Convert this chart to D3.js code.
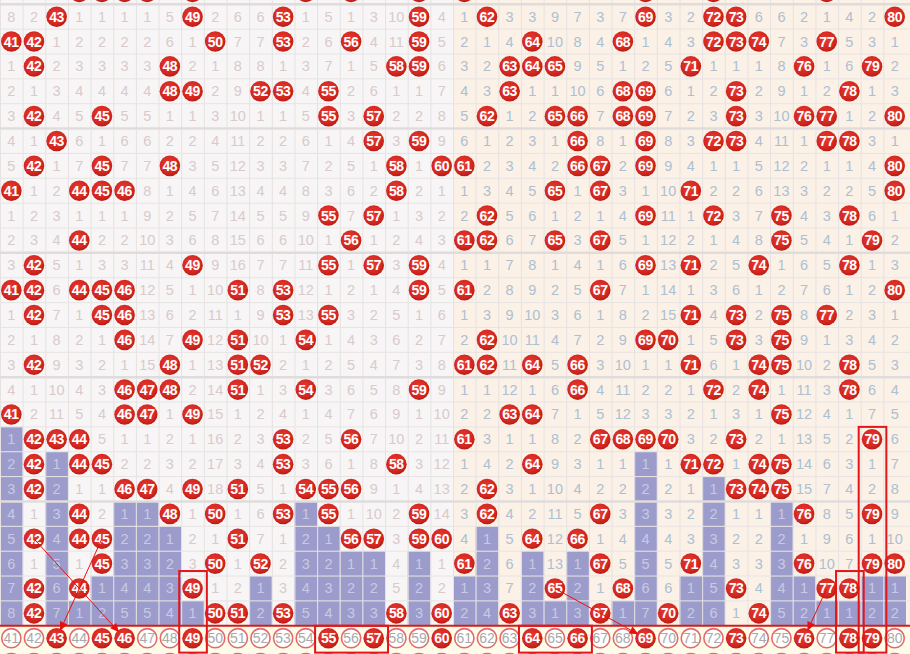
<!DOCTYPE html>
<html><head><meta charset="utf-8">
<script src="https://cdn.jsdelivr.net/npm/d3@7"></script>
<style>html,body{margin:0;padding:0;overflow:hidden;background:#fff}svg{display:block}</style>
</head><body><svg id="c" width="910" height="654"></svg>
<script>
// ---------- data ----------
const numbers = d3.range(41, 81);
// value equal to the column number = drawn ball, otherwise omission count
const prevRow = [7,1,2,44,45,46,47,4,49,1, 5,5,1,54,4,56,2,9,59,3, 61,1,2,2,8,6,2,6,69,2, 1,72,1,5,5,1,77,3,1,1];
const rowA = [8,2,43,1,1,1,1,5,49,2, 6,6,53,1,5,1,3,10,59,4, 1,62,3,3,9,7,3,7,69,3, 2,72,73,6,6,2,1,4,2,80];
const rowB = [41,42,1,2,2,2,2,6,1,50, 7,7,53,2,6,56,4,11,59,5, 2,1,4,64,10,8,4,68,1,4, 3,72,73,74,7,3,77,5,3,1];
const rowC = [1,42,2,3,3,3,3,48,2,1, 8,8,1,3,7,1,5,58,59,6, 3,2,63,64,65,9,5,1,2,5, 71,1,1,1,8,76,1,6,79,2];
const rowD = [2,1,3,4,4,4,4,48,49,2, 9,52,53,4,55,2,6,1,1,7, 4,3,63,1,1,10,6,68,69,6, 1,2,73,2,9,1,2,78,1,3];
const rowE = [3,42,4,5,45,5,5,1,1,3, 10,1,1,5,55,3,57,2,2,8, 5,62,1,2,65,66,7,68,69,7, 2,3,73,3,10,76,77,1,2,80];
const rowF = [4,1,43,6,1,6,6,2,2,4, 11,2,2,6,1,4,57,3,59,9, 6,1,2,3,1,66,8,1,69,8, 3,72,73,4,11,1,77,78,3,1];
const rowG = [5,42,1,7,45,7,7,48,3,5, 12,3,3,7,2,5,1,58,1,60, 61,2,3,4,2,66,67,2,69,9, 4,1,1,5,12,2,1,1,4,80];
const rowH = [41,1,2,44,45,46,8,1,4,6, 13,4,4,8,3,6,2,58,2,1, 1,3,4,5,65,1,67,3,1,10, 71,2,2,6,13,3,2,2,5,80];
const rowI = [1,2,3,1,1,1,9,2,5,7, 14,5,5,9,55,7,57,1,3,2, 2,62,5,6,1,2,1,4,69,11, 1,72,3,7,75,4,3,78,6,1];
const rowJ = [2,3,4,44,2,2,10,3,6,8, 15,6,6,10,1,56,1,2,4,3, 61,62,6,7,65,3,67,5,1,12, 2,1,4,8,75,5,4,1,79,2];
const rowK = [3,42,5,1,3,3,11,4,49,9, 16,7,7,11,55,1,57,3,59,4, 1,1,7,8,1,4,1,6,69,13, 71,2,5,74,1,6,5,78,1,3];
const rowL = [41,42,6,44,45,46,12,5,1,10, 51,8,53,12,1,2,1,4,59,5, 61,2,8,9,2,5,67,7,1,14, 1,3,6,1,2,7,6,1,2,80];
const rowM = [1,42,7,1,45,46,13,6,2,11, 1,9,53,13,55,3,2,5,1,6, 1,3,9,10,3,6,1,8,2,15, 71,4,73,2,75,8,77,2,3,1];
const rowN = [2,1,8,2,1,46,14,7,49,12, 51,10,1,54,1,4,3,6,2,7, 2,62,10,11,4,7,2,9,69,70, 1,5,73,3,75,9,1,3,4,2];
const rowO = [3,42,9,3,2,1,15,48,1,13, 51,52,2,1,2,5,4,7,3,8, 61,62,11,64,5,66,3,10,1,1, 71,6,1,74,75,10,2,78,5,3];
const rowP = [4,1,10,4,3,46,47,48,2,14, 51,1,3,54,3,6,5,8,59,9, 1,1,12,1,6,66,4,11,2,2, 1,72,2,74,1,11,3,78,6,4];
const rowQ = [41,2,11,5,4,46,47,1,49,15, 1,2,4,1,4,7,6,9,1,10, 2,2,63,64,7,1,5,12,3,3, 2,1,3,1,75,12,4,1,7,5];
const rowR = [1,42,43,44,5,1,1,2,1,16, 2,3,53,2,5,56,7,10,2,11, 61,3,1,1,8,2,67,68,69,70, 3,2,73,2,1,13,5,2,79,6];
const rowS = [2,42,1,44,45,2,2,3,2,17, 3,4,53,3,6,1,8,58,3,12, 1,4,2,64,9,3,1,1,1,1, 71,72,1,74,75,14,6,3,1,7];
const rowT = [3,42,2,1,1,46,47,4,49,18, 51,5,1,54,55,56,9,1,4,13, 2,62,3,1,10,4,2,2,2,2, 1,1,73,74,75,15,7,4,2,8];
const rowU = [4,1,3,44,2,1,1,48,1,50, 1,6,53,1,55,1,10,2,59,14, 3,62,4,2,11,5,67,3,3,3, 2,2,1,1,1,76,8,5,79,9];
const rowV = [5,42,4,44,45,2,2,1,2,1, 51,7,1,2,1,56,57,3,59,60, 4,1,5,64,12,66,1,4,4,4, 3,3,2,2,2,1,9,6,1,10];
const rowW = [6,1,5,1,45,3,3,2,3,50, 1,52,2,3,2,1,1,4,1,1, 61,2,6,1,13,1,67,5,5,5, 71,4,3,3,3,76,10,7,79,80];
const rowX = [7,42,6,44,1,4,4,3,49,1, 2,1,3,4,3,2,2,5,2,2, 1,3,7,2,65,2,1,68,6,6, 1,5,73,4,4,1,77,78,1,1];
const rowY = [8,42,7,1,2,5,5,4,1,50, 51,2,53,5,4,3,3,58,3,60, 2,4,63,3,1,3,67,1,7,70, 2,6,1,74,5,2,1,1,2,2];
// number of trailing rows shaded blue (current omission streak) per number
const currentOmission = [8,0,7,1,2,5,5,4,1,0, 0,2,0,5,4,3,3,0,3,0, 2,4,0,3,1,3,0,1,7,0, 2,6,0,0,5,2,1,1,2,2];
// numbers marked in the bottom row
const bottomDrawn = [43,45,46,49,55,57,60,64,66,69,73,76,78,79];
// red boxes: number range and row range (row index in the table, 26 = bottom row)
const boxes = [
  {from:49, to:49, r0:24, r1:26, dy0:-5},
  {from:55, to:57, r0:26, r1:26, dy0:0},
  {from:64, to:66, r0:26, r1:26, dy0:0},
  {from:78, to:78, r0:24, r1:26, dy0:-5},
  {from:79, to:79, r0:18, r1:26, dy0:0}
];
// arrows: from a ball (number,row) to a number in the bottom row
const arrows = [
  {num:42, row:22, to:46},
  {num:45, row:22, to:43},
  {num:65, row:24, to:69},
  {num:77, row:24, to:76}
];

const tableRows = [prevRow,rowA,rowB,rowC,rowD,rowE,rowF,rowG,rowH,rowI,rowJ,rowK,rowL,rowM,rowN,rowO,rowP,rowQ,rowR,rowS,rowT,rowU,rowV,rowW,rowX,rowY];

// ---------- drawing ----------
const svg = d3.select('#c');
const RH = 24.86, TOP = -20.6, NR = 28;
const x = d3.scaleBand().domain(numbers).range([0, 906]);
const y = d3.scaleBand().domain(d3.range(NR)).range([TOP, TOP + NR*RH]);
const bw = x.bandwidth(), bh = y.bandwidth();
const cx = n => x(n) + bw/2, cy = r => y(r) + bh/2;
const lastRow = tableRows.length - 1; // 25
const bottomRow = lastRow + 1;

const defs = svg.append('defs');
const g = defs.append('radialGradient').attr('id','ball').attr('cx','45%').attr('cy','40%').attr('r','60%');
g.append('stop').attr('offset','0%').attr('stop-color','#e63b32');
g.append('stop').attr('offset','75%').attr('stop-color','#d3261e');
g.append('stop').attr('offset','100%').attr('stop-color','#b91c16');

// backgrounds
const splitX = x(61);
svg.append('rect').attr('x',0).attr('y',0).attr('width',splitX).attr('height',y(bottomRow)).attr('fill','#f7f5f5');
svg.append('rect').attr('x',splitX).attr('y',0).attr('width',910-splitX).attr('height',y(bottomRow)).attr('fill','#fbf1e6');
svg.append('rect').attr('x',0).attr('y',y(bottomRow)).attr('width',910).attr('height',654-y(bottomRow)).attr('fill','#fffbe9');

// blue streak cells
const blueCells = [];
numbers.forEach((n,i)=>{ for(let k=0;k<currentOmission[i];k++) blueCells.push({n, r:lastRow-k}); });
svg.append('g').selectAll('rect').data(blueCells).join('rect')
  .attr('x',d=>x(d.n)).attr('y',d=>y(d.r)).attr('width',bw).attr('height',bh).attr('fill','#9c9ccc');
const isBlue = new Set(blueCells.map(d=>d.n+'_'+d.r));

// grid
const grid = svg.append('g');
numbers.forEach(n=>{
  grid.append('line').attr('x1',x(n)+0.5).attr('x2',x(n)+0.5).attr('y1',0).attr('y2',y(bottomRow))
    .attr('stroke','#e6e2e2').attr('stroke-width',1);
});
d3.range(0,bottomRow).forEach(r=>{
  const thick = (r % 5) === 1;
  grid.append('line').attr('x1',0).attr('x2',910).attr('y1',y(r)).attr('y2',y(r))
    .attr('stroke', thick ? '#e0dcdc' : '#e8e4e4').attr('stroke-width', thick ? 2.5 : 1);
});

// cells
const cells = [];
tableRows.forEach((row,r)=>row.forEach((v,i)=>cells.push({n:numbers[i], r, v})));
const cg = svg.append('g').attr('font-family','"Liberation Sans", Arial, sans-serif');
// the first row is scrolled almost out of view: only its ball edges show
cells.filter(d=>d.v!==d.n && d.r>0).forEach(d=>{
  const blue = isBlue.has(d.n+'_'+d.r);
  cg.append('text').attr('x',cx(d.n)).attr('y',cy(d.r)+5).attr('text-anchor','middle')
    .attr('font-size',14.5)
    .attr('fill', blue ? '#c9c9e3' : (d.n>60 ? '#adc0d2' : '#d9cbcb'))
    .text(d.v);
});
function ball(parent, n, r, label){
  parent.append('circle').attr('cx',cx(n)).attr('cy',cy(r)).attr('r',10.3).attr('fill','url(#ball)');
  if(label) parent.append('text').attr('x',cx(n)).attr('y',cy(r)+5).attr('text-anchor','middle')
    .attr('font-size',14).attr('font-weight','bold').attr('fill','#fff').attr('letter-spacing',-0.3).text(n);
}
cells.filter(d=>d.v===d.n).forEach(d=>ball(cg,d.n,d.r,d.r>0));

// red separator above bottom row
svg.append('line').attr('x1',0).attr('x2',910).attr('y1',y(bottomRow)).attr('y2',y(bottomRow))
  .attr('stroke','#d01f1a').attr('stroke-width',2);

// bottom row
const bg = svg.append('g').attr('font-family','"Liberation Sans", Arial, sans-serif');
numbers.forEach(n=>{
  if(bottomDrawn.includes(n)) { ball(bg,n,bottomRow,true); }
  else {
    bg.append('circle').attr('cx',cx(n)).attr('cy',cy(bottomRow)).attr('r',9.6)
      .attr('fill','#fff').attr('stroke','#e26a6a').attr('stroke-width',1.6);
    bg.append('text').attr('x',cx(n)).attr('y',cy(bottomRow)+5).attr('text-anchor','middle')
      .attr('font-size',14).attr('fill','#a9a9a9').text(n);
  }
  bg.append('circle').attr('cx',cx(n)).attr('cy',cy(bottomRow+1)).attr('r',9.6)
      .attr('fill','#fff').attr('stroke','#e26a6a').attr('stroke-width',1.6);
});

// boxes
svg.append('g').selectAll('rect').data(boxes).join('rect')
  .attr('x',d=>x(d.from)-2).attr('y',d=>y(d.r0)+d.dy0)
  .attr('width',d=>x(d.to)+bw-x(d.from)+5).attr('height',d=>y(d.r1)+bh-y(d.r0)-d.dy0+2)
  .attr('fill','none').attr('stroke','#e3141a').attr('stroke-width',2);

// arrows
const ag = svg.append('g');
arrows.forEach(a=>{
  const x1=cx(a.num), y1=cy(a.row), x2c=cx(a.to), y2c=cy(bottomRow);
  const dx=x2c-x1, dy=y2c-y1, L=Math.hypot(dx,dy), ux=dx/L, uy=dy/L;
  const tx=x2c-ux*8, ty=y2c-uy*8;
  const bx=tx-ux*9, by=ty-uy*9, px=-uy, py=ux;
  ag.append('line').attr('x1',x1).attr('y1',y1).attr('x2',bx).attr('y2',by).attr('stroke','#e8100f').attr('stroke-width',1);
  ag.append('path').attr('d',`M${tx},${ty}L${bx+px*4},${by+py*4}L${bx-px*4},${by-py*4}Z`).attr('fill','#e8100f');
});
</script></body></html>
